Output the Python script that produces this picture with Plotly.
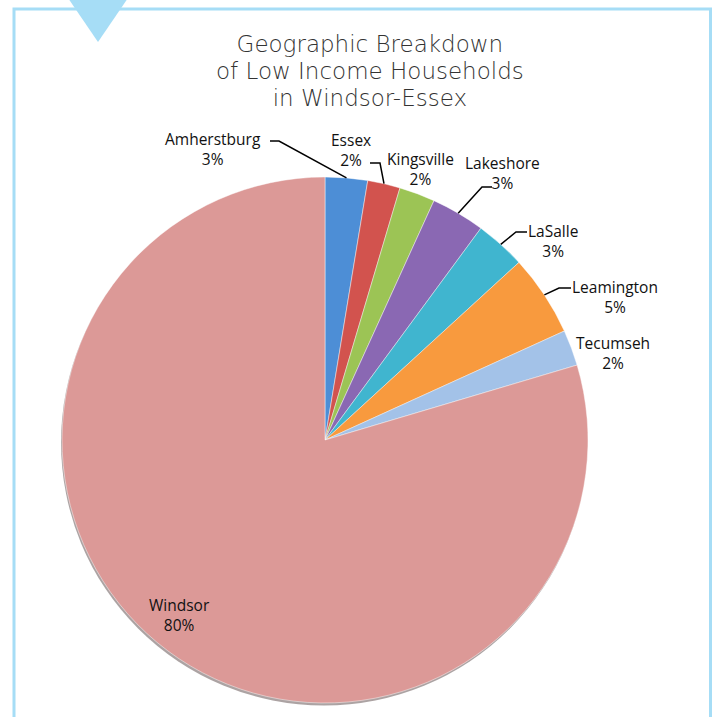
import math
import plotly.graph_objects as go

# ---- data ----
regions = ["Amherstburg", "Essex", "Kingsville", "Lakeshore", "LaSalle",
           "Leamington", "Tecumseh", "Windsor"]
shares = [2.6, 2.0, 2.2, 3.3, 3.1, 5.0, 2.2, 79.6]
colors = ["#4d8ed6", "#d2534e", "#9cc455", "#8a68b3", "#40b5cf",
          "#f89a3e", "#a3c2e8", "#dc9997"]
title_lines = ["Geographic Breakdown", "of Low Income Households", "in Windsor-Essex"]

# ---- layout constants (pixels) ----
W, H = 718, 717
CX, CY, R = 325, 440, 263
FRAME = "#a6ddf6"

def px(x):
    return x / W

def py(y):
    return 1 - y / H

# label block centres (px) and leader-line start/elbow (px) per region
label_pos = {
    "Amherstburg": (213, 149), "Essex": (351, 150), "Kingsville": (420, 169),
    "Lakeshore": (502, 173), "LaSalle": (553, 241), "Leamington": (615, 297),
    "Tecumseh": (613, 353), "Windsor": (179, 615),
}
leaders = {
    "Amherstburg": [(270, 141), (279, 141)],
    "Essex": [(370, 163), (380, 163)],
    "Lakeshore": [(492, 187), (482, 187)],
    "LaSalle": [(527, 232), (516, 232)],
    "Leamington": [(571, 288), (559, 288)],
}

fig = go.Figure()
fig.add_trace(go.Pie(
    labels=regions, values=shares, sort=False, direction="clockwise",
    rotation=0, textinfo="none", hoverinfo="label+percent",
    marker=dict(colors=colors, line=dict(color="rgba(255,255,255,0.45)", width=1)),
    domain=dict(x=[px(CX - R), px(CX + R)], y=[py(CY + R), py(CY - R)]),
    showlegend=False,
))

total = sum(shares)
annotations = []
shapes = []

# frame and triangle
shapes.append(dict(type="path", xref="paper", yref="paper",
                   path=f"M {px(14)},{py(740)} L {px(14)},{py(9)} L {px(710.5)},{py(9)} L {px(710.5)},{py(740)}",
                   line=dict(color=FRAME, width=3), layer="below"))
shapes.append(dict(type="path", xref="paper", yref="paper",
                   path=f"M {px(68)},{py(-2)} L {px(128)},{py(-2)} L {px(98)},{py(42)} Z",
                   fillcolor=FRAME, line=dict(width=0), layer="above"))
# soft shadow under pie (offset down-left)
shapes.append(dict(type="circle", xref="paper", yref="paper",
                   x0=px(CX - R - 1), x1=px(CX + R - 1), y0=py(CY + R + 2.5), y1=py(CY - R + 2.5),
                   fillcolor="rgba(70,50,50,0.45)", line=dict(width=0), layer="below"))

cum = 0.0
for name, v in zip(regions, shares):
    mid = (cum + v / 2) / total
    cum += v
    pct = round(100 * v / total)
    lx, ly = label_pos[name]
    annotations.append(dict(
        x=px(lx), y=py(ly), xref="paper", yref="paper", showarrow=False,
        text=f"{name}<br>{pct}%", align="center", xanchor="center", yanchor="middle",
        font=dict(family="Open Sans, Liberation Sans, sans-serif", size=15.5, color="#111111"),
    ))
    if name in leaders:
        theta = 2 * math.pi * mid
        ex = CX + R * math.sin(theta)
        ey = CY - R * math.cos(theta)
        (sx, sy), (bx, by) = leaders[name]
        shapes.append(dict(type="path", xref="paper", yref="paper",
                           path=f"M {px(sx)},{py(sy)} L {px(bx)},{py(by)} L {px(ex)},{py(ey)}",
                           line=dict(color="#000000", width=1.5)))

# title: one text block; base size sets line pitch, spans set glyph size
title_text = "<br>".join(f"<span style='font-size:23px'>{t}</span>" for t in title_lines)
annotations.append(dict(
    x=px(370), y=py(71), xref="paper", yref="paper", showarrow=False,
    text=title_text, align="center", xanchor="center", yanchor="middle",
    font=dict(family="DejaVu Sans, sans-serif", size=20.8, color="#333333", weight=300),
))

fig.update_layout(
    width=W, height=H, margin=dict(l=0, r=0, t=0, b=0),
    paper_bgcolor="white", plot_bgcolor="white",
    annotations=annotations, shapes=shapes,
)

fig.write_html("out.html", config={"displayModeBar": False},
               post_script="document.body.style.margin='0';")
